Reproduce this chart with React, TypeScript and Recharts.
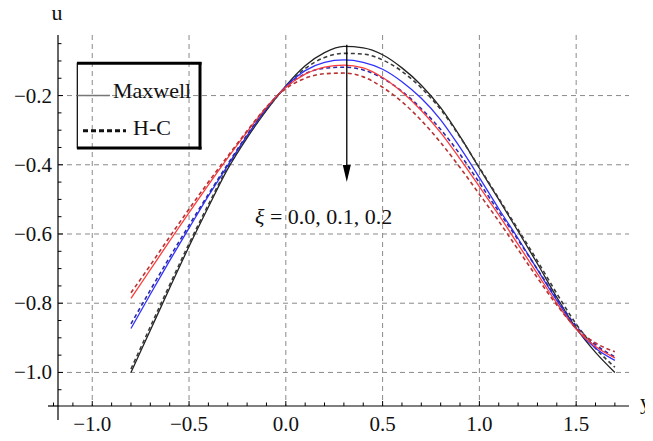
import React from 'react';
import { LineChart, Line, XAxis, YAxis, CartesianGrid, ReferenceLine, Customized } from 'recharts';

// channel coordinate y
const yPositions = [-0.8, -0.7, -0.6, -0.5, -0.4, -0.3, -0.2, -0.1, 0.0, 0.1, 0.2, 0.3, 0.4, 0.5, 0.6, 0.7, 0.8, 0.9, 1.0, 1.1, 1.2, 1.3, 1.4, 1.5, 1.6, 1.7];

// Maxwell (solid) for xi = 0.0, 0.1, 0.2
const maxwellXi0 = [-1.0, -0.878, -0.756, -0.636, -0.522, -0.412, -0.322, -0.243, -0.172, -0.114, -0.076, -0.058, -0.062, -0.082, -0.12, -0.17, -0.235, -0.318, -0.41, -0.5, -0.592, -0.686, -0.783, -0.872, -0.942, -1.0];
const maxwellXi1 = [-0.873, -0.774, -0.677, -0.583, -0.49, -0.402, -0.316, -0.238, -0.174, -0.128, -0.104, -0.097, -0.104, -0.124, -0.16, -0.208, -0.27, -0.35, -0.437, -0.527, -0.613, -0.703, -0.792, -0.874, -0.93, -0.965];
const maxwellXi2 = [-0.786, -0.703, -0.62, -0.538, -0.458, -0.38, -0.305, -0.234, -0.176, -0.138, -0.118, -0.112, -0.12, -0.148, -0.19, -0.243, -0.307, -0.383, -0.463, -0.545, -0.63, -0.715, -0.8, -0.875, -0.925, -0.958];

// H-C (dashed) for xi = 0.0, 0.1, 0.2
const hcXi0 = [-0.99, -0.868, -0.747, -0.628, -0.515, -0.407, -0.318, -0.241, -0.174, -0.122, -0.09, -0.078, -0.08, -0.097, -0.13, -0.178, -0.24, -0.32, -0.408, -0.497, -0.587, -0.678, -0.772, -0.86, -0.93, -0.985];
const hcXi1 = [-0.86, -0.762, -0.667, -0.575, -0.485, -0.398, -0.313, -0.237, -0.176, -0.137, -0.121, -0.118, -0.126, -0.15, -0.188, -0.238, -0.298, -0.37, -0.452, -0.535, -0.617, -0.702, -0.787, -0.866, -0.92, -0.955];
const hcXi2 = [-0.77, -0.69, -0.608, -0.528, -0.45, -0.375, -0.302, -0.233, -0.18, -0.15, -0.137, -0.135, -0.146, -0.176, -0.218, -0.272, -0.336, -0.408, -0.485, -0.563, -0.645, -0.727, -0.805, -0.872, -0.915, -0.94];

const xTicks = [-1.1, -1.0, -0.9, -0.8, -0.7, -0.6, -0.5, -0.4, -0.3, -0.2, -0.1, 0.0, 0.1, 0.2, 0.3, 0.4, 0.5, 0.6, 0.7, 0.8, 0.9, 1.0, 1.1, 1.2, 1.3, 1.4, 1.5, 1.6, 1.7];
const yTicks = [-1.05, -1.0, -0.95, -0.9, -0.85, -0.8, -0.75, -0.7, -0.65, -0.6, -0.55, -0.5, -0.45, -0.4, -0.35, -0.3, -0.25, -0.2, -0.15, -0.1, -0.05];
const xGrid = [-1.0, -0.5, 0.0, 0.5, 1.0, 1.5];
const yGrid = [-1.0, -0.8, -0.6, -0.4, -0.2];
const xDomain = [-1.177, 1.773];
const yDomain = [-1.097, -0.025];
const arrowX = 0.315;
const arrowFrom = -0.053;
const arrowTo = -0.45;

const data = yPositions.map((y, i) => ({
  y,
  m0: maxwellXi0[i],
  m1: maxwellXi1[i],
  m2: maxwellXi2[i],
  h0: hcXi0[i],
  h1: hcXi1[i],
  h2: hcXi2[i],
}));

const FONT = '"Liberation Serif", "Times New Roman", serif';
const fmt = (v: number) => v.toFixed(1).replace('-', '\u2212');

const W = 645;
const H = 441;
const M = { top: 35, right: 24, bottom: 0, left: 0 };
const YW = 50;
const XH = 35;
const plotLeft = M.left + YW;
const plotBottom = H - M.bottom - XH;

const XTick = (props: any) => {
  const { x, y, payload } = props;
  const v = payload.value as number;
  const major = Math.abs(v * 2 - Math.round(v * 2)) < 1e-6;
  return (
    <g>
      <line x1={x} x2={x} y1={y} y2={y - (major ? 5 : 3.5)} stroke="#000" strokeWidth={1} />
      {major && (
        <text x={x} y={y + 25} textAnchor="middle" fontFamily={FONT} fontSize={21} fill="#111">
          {fmt(v)}
        </text>
      )}
    </g>
  );
};

const YTick = (props: any) => {
  const { x, y, payload } = props;
  const v = payload.value as number;
  const major = Math.abs(v * 5 - Math.round(v * 5)) < 1e-6;
  return (
    <g>
      <line x1={x} x2={x + (major ? 5 : 3.5)} y1={y} y2={y} stroke="#000" strokeWidth={1} />
      {major && (
        <text x={x - 6} y={y + 7} textAnchor="end" fontFamily={FONT} fontSize={21} fill="#111">
          {fmt(v)}
        </text>
      )}
    </g>
  );
};

const Overlay = () => (
  <g>
    {/* axis extensions beyond the crossing point */}
    <line x1={plotLeft - 10} x2={plotLeft} y1={plotBottom} y2={plotBottom} stroke="#000" strokeWidth={1.2} />
    <line x1={plotLeft - 4.5} x2={plotLeft - 4.5} y1={plotBottom} y2={plotBottom - 3.5} stroke="#000" strokeWidth={1} />
    <line x1={plotLeft} x2={plotLeft} y1={plotBottom} y2={plotBottom + 14} stroke="#000" strokeWidth={1.2} />
    <g transform="translate(0,8)">
      {/* axis names */}
      <text x={49} y={12} textAnchor="middle" fontFamily={FONT} fontSize={22} fill="#111">u</text>
      <text x={632} y={401} fontFamily={FONT} fontSize={22} fill="#111">y</text>
      {/* annotation */}
      <text x={247} y={216} fontFamily={FONT} fontSize={22} fill="#111">
        <tspan fontStyle="italic">ξ</tspan> = 0.0, 0.1, 0.2
      </text>
      {/* legend */}
      <rect x={69.3} y={55.3} width={122.7} height={84.7} fill="none" stroke="#000" strokeWidth={1.2} />
      <line x1={69} x2={193.5} y1={55.3} y2={55.3} stroke="#000" strokeWidth={3} />
      <line x1={192} x2={192} y1={54} y2={141.5} stroke="#000" strokeWidth={3} />
      <line x1={69} x2={193.5} y1={140} y2={140} stroke="#000" strokeWidth={3} />
      <line x1={69.3} x2={102} y1={87.5} y2={87.5} stroke="#777" strokeWidth={1.6} />
      <text x={105} y={90} fontFamily={FONT} fontSize={22} fill="#111">Maxwell</text>
      <line x1={75} x2={118} y1={122.7} y2={122.7} stroke="#111" strokeWidth={3} strokeDasharray="5 3" />
      <text x={125} y={127} fontFamily={FONT} fontSize={22} fill="#111">H-C</text>
    </g>
  </g>
);

const ArrowShape = (p: any) => {
  const { x1, y1, x2, y2 } = p;
  const top = Math.min(y1, y2);
  const bot = Math.max(y1, y2);
  return (
    <g>
      <line x1={x1} x2={x1} y1={top} y2={bot - 10} stroke="#000" strokeWidth={1.3} />
      <polygon points={`${x1 - 4},${bot - 17} ${x1 + 4},${bot - 17} ${x1},${bot}`} fill="#000" />
    </g>
  );
};

export default function App() {
  return (
    <div style={{ marginTop: -8 }}>
      <LineChart width={W} height={H} data={data} margin={M} style={{ background: '#fff' }}>
        <CartesianGrid
          horizontalValues={yGrid}
          verticalValues={xGrid}
          stroke="#8a8a8a"
          strokeDasharray="5 4"
          strokeWidth={1}
        />
        <XAxis
          type="number"
          dataKey="y"
          domain={xDomain}
          allowDataOverflow
          ticks={xTicks}
          interval={0}
          tickLine={false}
          tickSize={0}
          tickMargin={0}
          tick={<XTick />}
          height={XH}
          axisLine={{ stroke: '#000', strokeWidth: 1.2 }}
        />
        <YAxis
          type="number"
          domain={yDomain}
          allowDataOverflow
          ticks={yTicks}
          interval={0}
          tickLine={false}
          tickSize={0}
          tickMargin={0}
          tick={<YTick />}
          width={YW}
          axisLine={{ stroke: '#000', strokeWidth: 1.2 }}
        />
        <Line dataKey="m0" type="monotone" stroke="#222222" strokeWidth={1.3} dot={false} isAnimationActive={false} />
        <Line dataKey="h0" type="monotone" stroke="#3a3a3a" strokeWidth={1.6} strokeDasharray="4 3" dot={false} isAnimationActive={false} />
        <Line dataKey="m1" type="monotone" stroke="#3030ff" strokeWidth={1.3} dot={false} isAnimationActive={false} />
        <Line dataKey="h1" type="monotone" stroke="#2a2aaa" strokeWidth={1.6} strokeDasharray="4 3" dot={false} isAnimationActive={false} />
        <Line dataKey="m2" type="monotone" stroke="#ff3a3a" strokeWidth={1.3} dot={false} isAnimationActive={false} />
        <Line dataKey="h2" type="monotone" stroke="#b83232" strokeWidth={1.6} strokeDasharray="4 3" dot={false} isAnimationActive={false} />
        <ReferenceLine
          segment={[{ x: arrowX, y: arrowFrom }, { x: arrowX, y: arrowTo }]}
          ifOverflow="visible"
          shape={<ArrowShape />}
        />
        <Customized component={Overlay} />
      </LineChart>
    </div>
  );
}
